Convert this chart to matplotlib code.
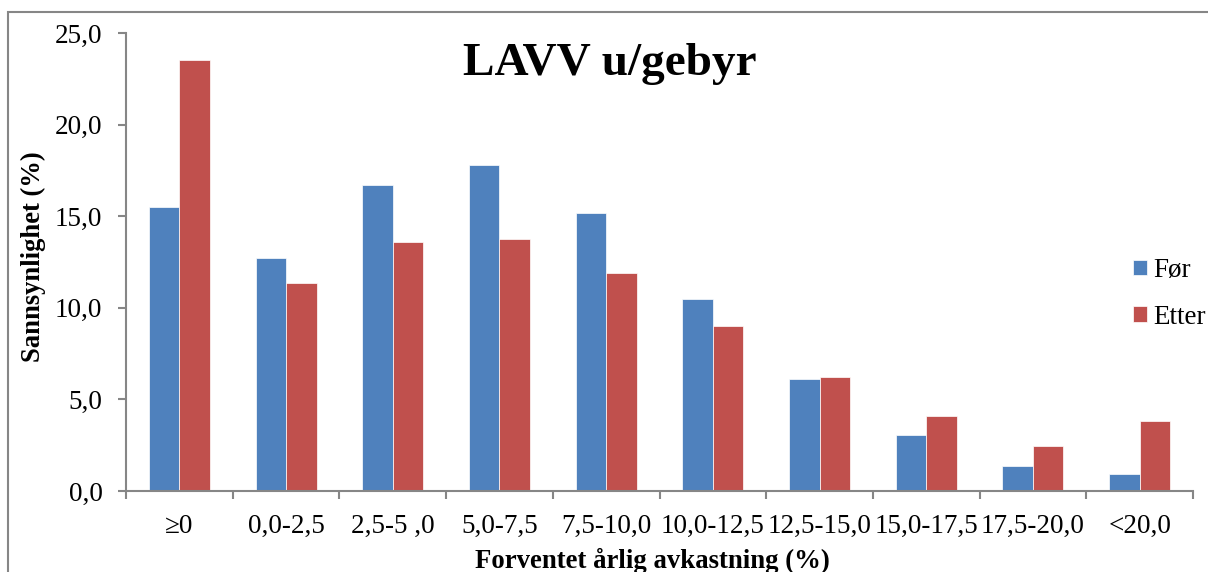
import numpy as np
import matplotlib
matplotlib.use("Agg")
import matplotlib.pyplot as plt
from matplotlib.patches import Rectangle

categories = ["≥0", "0,0-2,5", "2,5-5 ,0", "5,0-7,5", "7,5-10,0",
              "10,0-12,5", "12,5-15,0", "15,0-17,5", "17,5-20,0", "<20,0"]
for_values = [15.5, 12.7, 16.7, 17.8, 15.15, 10.5, 6.1, 3.05, 1.38, 0.95]
etter_values = [23.5, 11.35, 13.6, 13.75, 11.9, 9.0, 6.25, 4.1, 2.48, 3.8]
y_ticks = [0, 5, 10, 15, 20, 25]

plt.rcParams['font.family'] = ['Liberation Serif', 'DejaVu Serif']

BLUE = "#4F81BD"
RED = "#C0504D"
AXIS = "#868686"

fig = plt.figure(figsize=(12.08, 5.72), dpi=100)
W, H = 1208, 572

# chart area border (cut off at right and bottom, like the source)
fig.patches.append(Rectangle((8 / W, -0.05), 1.2, (H - 12) / H + 0.05,
                             transform=fig.transFigure, fill=False,
                             edgecolor=AXIS, linewidth=1.5))

ax = fig.add_axes([126 / W, (H - 491) / H, (1193 - 126) / W, (491 - 33) / H])

x = np.arange(len(categories))
w = 0.286
ax.bar(x - w / 2, for_values, w, color=BLUE, edgecolor="white", linewidth=0.5, label="Før")
ax.bar(x + w / 2, etter_values, w, color=RED, edgecolor="white", linewidth=0.5, label="Etter")

ax.set_xlim(-0.5, len(categories) - 0.5)
ax.set_ylim(0, 25)

ax.set_yticks(y_ticks)
ax.set_yticklabels([f"{v:.1f}".replace(".", ",") for v in y_ticks], fontsize=19.5)
ax.set_xticks(x)
ax.set_xticklabels(categories, fontsize=19.5)
ax.set_xticks(np.arange(len(categories) + 1) - 0.5, minor=True)

ax.tick_params(axis="x", which="major", length=0, pad=16.5)
ax.tick_params(axis="x", which="minor", length=6, width=1.5, color=AXIS)
ax.tick_params(axis="y", length=6, width=1.5, color=AXIS, pad=11)

for side in ("top", "right"):
    ax.spines[side].set_visible(False)
for side in ("left", "bottom"):
    ax.spines[side].set_color(AXIS)
    ax.spines[side].set_linewidth(1.5)

fig.text(610 / W, 1 - 75 / H, "LAVV u/gebyr", fontsize=34, fontweight="bold",
         ha="center", va="baseline")
fig.text(33 / W, 1 - 257 / H, "Sannsynlighet (%)", fontsize=19.2, fontweight="bold",
         rotation=90, ha="center", va="center")
fig.text(652 / W, 1 - 568 / H, "Forventet årlig avkastning (%)", fontsize=19.3,
         fontweight="bold", ha="center", va="baseline")

ax.legend(loc="center left", bbox_to_anchor=(1119 / W, 1 - 294 / H),
          bbox_transform=fig.transFigure, frameon=False, fontsize=19.5,
          handlelength=0.52, handleheight=0.52, handletextpad=0.25,
          labelspacing=0.8, borderpad=0)

fig.savefig("out.png", dpi=100)
